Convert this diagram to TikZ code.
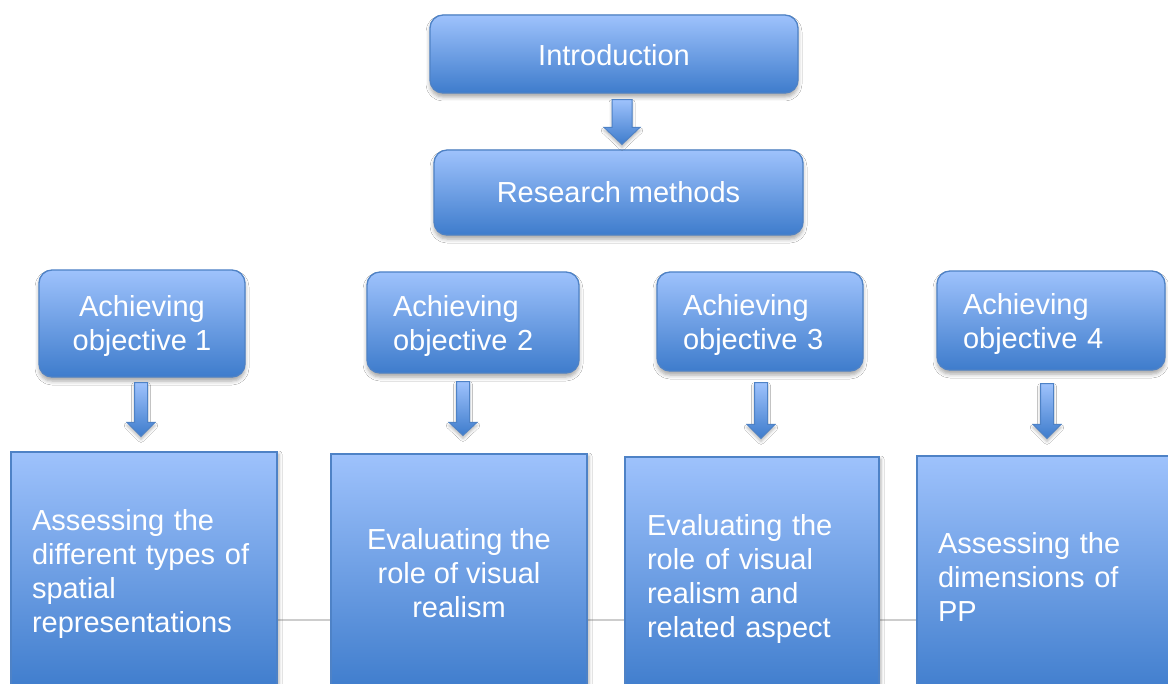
\documentclass[tikz,border=0pt]{standalone}
\usepackage{fontspec}
\setmainfont{Liberation Sans}
\usetikzlibrary{shadows.blur,calc}

\definecolor{boxtop}{RGB}{158,194,252}
\definecolor{boxbot}{RGB}{62,124,204}
\definecolor{boxline}{RGB}{78,130,198}
\definecolor{linkgray}{RGB}{205,205,205}

\tikzset{
  base/.style={draw=boxline, line width=1.3pt, shading=axis, top color=boxtop,
    bottom color=boxbot, inner sep=0pt},
  roundbox/.style={base, rounded corners=13pt,
    blur shadow={shadow xshift=0pt, shadow yshift=-4pt, shadow blur radius=4pt,
      shadow opacity=35}},
  tallbox/.style={base,
    blur shadow={shadow xshift=2pt, shadow yshift=-2pt, shadow blur radius=3pt,
      shadow opacity=30}},
  boxtext/.style={text=white, font=\fontsize{29}{34}\selectfont, inner sep=0pt},
  arrowbody/.style={draw=boxline, line width=1pt, line join=miter, shading=axis,
    top color=boxtop, bottom color=boxbot,
    blur shadow={shadow xshift=0pt, shadow yshift=-3pt, shadow blur radius=3pt,
      shadow opacity=30}},
  link/.style={draw=linkgray, line width=1.5pt},
}

% Block arrow pointing down, from below one node to above another.
% #1 x, #2 upper node, #3 lower node, #4 top gap, #5 bottom gap,
% #6 shaft half width, #7 head half width, #8 head length
\newcommand\blockdown[8]{%
  \path[arrowbody] let \p1=(#1,0), \p2=(#2.south), \p3=(#3.north) in
    ({\x1-#6pt},{\y2-#4pt}) -- ({\x1+#6pt},{\y2-#4pt})
    -- ({\x1+#6pt},{\y3+#5pt+#8pt}) -- ({\x1+#7pt},{\y3+#5pt+#8pt})
    -- ({\x1},{\y3+#5pt}) -- ({\x1-#7pt},{\y3+#5pt+#8pt})
    -- ({\x1-#6pt},{\y3+#5pt+#8pt}) -- cycle;}

\begin{document}
\begin{tikzpicture}[x=1pt,y=-1pt]
  \useasboundingbox (0,0) rectangle (1168,684);
  \clip (0,0) rectangle (1168,684);
  \fill[white] (0,0) rectangle (1168,684);

  % top chain
  \node[roundbox, minimum width=368pt, minimum height=78pt] (intro) at (614,54) {};
  \node[boxtext] (introtxt) at ([yshift=-1pt]intro.center) {Introduction};
  \node[roundbox, minimum width=369pt, minimum height=85pt] (methods) at (618.5,192.5) {};
  \node[boxtext] (methodstxt) at (methods.center) {Research methods};

  % objective boxes
  \node[roundbox, minimum width=206pt, minimum height=107pt] (obj1) at (142,323.5) {};
  \node[boxtext, align=center] (obj1txt) at ([yshift=-3pt]obj1.center) {Achieving\\objective 1};
  \node[roundbox, minimum width=212pt, minimum height=101pt] (obj2) at (473,322.5) {};
  \node[boxtext, text width=160pt, align=left] (obj2txt) at ([yshift=-4pt]obj2.center) {Achieving\\objective 2};
  \node[roundbox, minimum width=206pt, minimum height=99pt] (obj3) at (760,321.5) {};
  \node[boxtext, text width=154pt, align=left] (obj3txt) at ([yshift=-4pt]obj3.center) {Achieving\\objective 3};
  \node[roundbox, minimum width=228pt, minimum height=99pt] (obj4) at (1051,320.5) {};
  \node[boxtext, text width=176pt, align=left] (obj4txt) at ([yshift=-4pt]obj4.center) {Achieving\\objective 4};

  % outcome boxes, joined by a thin line behind them
  \coordinate (linkL) at (144,620);
  \coordinate (linkR) at (1052,620);
  \draw[link] (linkL) -- (linkR);

  \node[tallbox, minimum width=266pt, minimum height=240pt] (res1) at (144,572) {};
  \node[boxtext, text width=224pt, align=left] (res1txt) at ([yshift=-2pt]res1.center)
    {Assessing the\\different types of\\spatial\\representations};
  \node[tallbox, minimum width=256pt, minimum height=238pt] (res2) at (459,573) {};
  \node[boxtext, align=center] (res2txt) at (res2.center)
    {Evaluating the\\role of visual\\realism};
  \node[tallbox, minimum width=254pt, minimum height=237pt] (res3) at (752,575.5) {};
  \node[boxtext, text width=210pt, align=left] (res3txt) at ([yshift=-3.5pt]res3.center)
    {Evaluating the\\role of visual\\realism and\\related aspect};
  \node[tallbox, minimum width=270pt, minimum height=242pt] (res4) at (1052,577) {};
  \node[boxtext, text width=228pt, align=left] (res4txt) at (res4.center)
    {Assessing the\\dimensions of\\PP};

  % arrows
  \blockdown{622}{intro}{methods}{6}{5}{10}{18}{17}
  \blockdown{141}{obj1}{res1}{5}{15}{6.5}{14}{14}
  \blockdown{463}{obj2}{res2}{8}{18}{6.5}{14}{13}
  \blockdown{761}{obj3}{res3}{11}{18}{6.5}{14}{14}
  \blockdown{1047}{obj4}{res4}{13}{17}{6.5}{14}{14}
\end{tikzpicture}
\end{document}
